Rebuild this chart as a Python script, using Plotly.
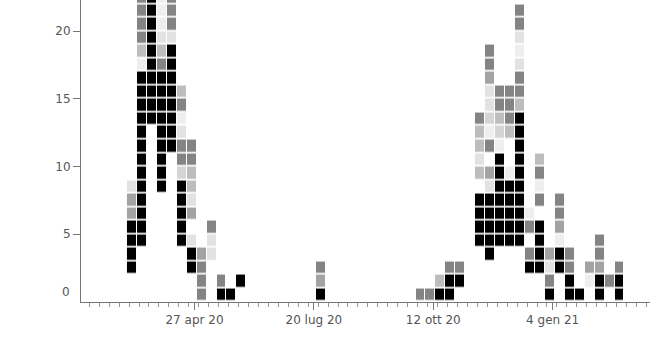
import plotly.graph_objects as go
import pandas as pd

# Weekly columns (Monday of the week) and the cells stacked from the bottom row upward.
# Codes: "." empty, F faint, V very light, P pale, L light, M medium, D dark gray, K black
week_starts = [
    "2020-03-09", "2020-03-16", "2020-03-23", "2020-03-30", "2020-04-06",
    "2020-04-13", "2020-04-20", "2020-04-27", "2020-05-04", "2020-05-11",
    "2020-05-18", "2020-05-25", "2020-07-20", "2020-09-28", "2020-10-05",
    "2020-10-12", "2020-10-19", "2020-10-26", "2020-11-09", "2020-11-16",
    "2020-11-23", "2020-11-30", "2020-12-07", "2020-12-14", "2020-12-21",
    "2020-12-28", "2021-01-04", "2021-01-11", "2021-01-18", "2021-01-25",
    "2021-02-01", "2021-02-08", "2021-02-15",
]
week_cells = [
    "..KKKKMMV",
    "....KKKKKKKKKKKKKFLDDDD",
    ".............KKKKKKKKKK",
    "........KKKKKKKKKDLVFFF",
    "...........KKKKKKKKVDDD",
    "....KKKKKPDDVFDL",
    "..KKV.MVLLDD",
    "DDDM",
    "...VVD",
    "KD",
    "K",
    ".K",
    "KMD",
    "D",
    "D",
    "KL",
    "KKD",
    ".KD",
    "....KKKK.LVLLD",
    "...KKKKKVM.DFPVVMDD",
    "....KKKKKKKFPLDD",
    "....KKKKKF..LDDD",
    "....KKKKKKKKKKLDDVFVDD",
    "..KD.DF",
    "..KKKK.DFDL",
    "KDVM",
    "..KKFMDD",
    "KKDD",
    "K",
    ".FM",
    "KKMDD",
    ".D",
    "KKD",
]

codes = ["F", "V", "P", "L", "M", "D", "K"]
shades = ["#eeeeee", "#e2e2e2", "#d4d4d4", "#bdbdbd", "#a3a3a3", "#848484", "#000000"]

x_tickvals = ["2020-04-27", "2020-07-20", "2020-10-12", "2021-01-04"]
x_ticktext = ["27 apr 20", "20 lug 20", "12 ott 20", "4 gen 21"]
y_tickvals = [5, 10, 15, 20]

n_rows = 23
weeks = pd.date_range(week_starts[0], week_starts[-1], freq="7D")
col_of = {pd.Timestamp(d): s for d, s in zip(week_starts, week_cells)}
z = [[None] * len(weeks) for _ in range(n_rows)]
for j, w in enumerate(weeks):
    s = col_of.get(w, "")
    for r, ch in enumerate(s):
        if ch != ".":
            z[r][j] = codes.index(ch)

xc = weeks + pd.Timedelta(days=5)
yc = [r + 0.5 for r in range(n_rows)]

n = len(codes)
colorscale = []
for i, c in enumerate(shades):
    colorscale.append([i / n, c])
    colorscale.append([(i + 1) / n, c])

fig = go.Figure(go.Heatmap(
    x=xc, y=yc, z=z,
    zmin=-0.5, zmax=n - 0.5,
    colorscale=colorscale, showscale=False,
    xgap=1, ygap=1.7, hoverinfo="skip",
))

font = dict(family="DejaVu Sans", size=12, color="#555555")
fig.update_layout(
    width=670, height=350,
    margin=dict(l=81, r=20, t=0, b=48),
    paper_bgcolor="white", plot_bgcolor="white",
    font=font,
    xaxis=dict(
        type="date",
        range=["2020-02-07 04:00", "2021-03-13 12:00"],
        tickvals=x_tickvals, ticktext=x_ticktext,
        ticks="outside", ticklen=7, tickcolor="#777777", tickwidth=1,
        showline=True, linecolor="#777777", linewidth=1,
        showgrid=False, zeroline=False,
        minor=dict(ticks="outside", ticklen=4, tickcolor="#999999",
                   dtick=7 * 86400000, tick0="2020-03-12", showgrid=False),
        tickfont=font,
    ),
    yaxis=dict(
        range=[0, 22.3],
        tickvals=y_tickvals,
        ticks="outside", ticklen=7, tickcolor="#777777", tickwidth=1,
        showline=True, linecolor="#777777", linewidth=1,
        showgrid=False, zeroline=False,
        tickfont=font,
    ),
    annotations=[dict(
        text="0", xref="paper", yref="y", x=0, y=0,
        xanchor="right", yanchor="middle", xshift=-9, yshift=10,
        showarrow=False, font=font,
    )],
)

fig.write_html("out.html")
